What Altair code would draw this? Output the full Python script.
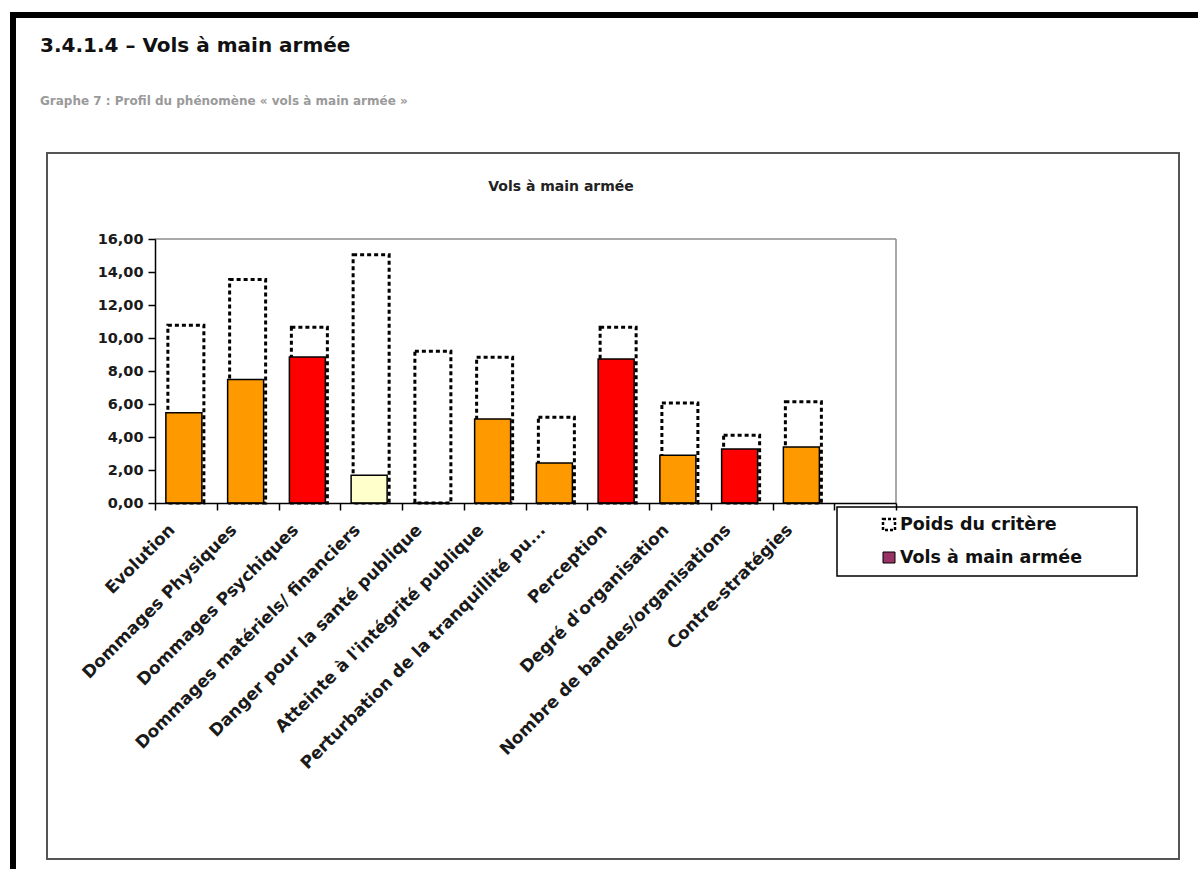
import altair as alt
import pandas as pd

# ---- data -----------------------------------------------------------------
categories = [
    "Evolution",
    "Dommages Physiques",
    "Dommages Psychiques",
    "Dommages matériels/ financiers",
    "Danger pour la santé publique",
    "Atteinte à l'intégrité publique",
    "Perturbation de la tranquillité pu...",
    "Perception",
    "Degré d'organisation",
    "Nombre de bandes/organisations",
    "Contre-stratégies",
]
# Twelfth slot on the category axis is left empty
slots = categories + [" "]
poids = [10.77, 13.54, 10.65, 15.05, 9.19, 8.83, 5.19, 10.65, 6.06, 4.10, 6.14]
valeurs = [5.47, 7.49, 8.85, 1.68, 0.0, 5.09, 2.42, 8.73, 2.89, 3.27, 3.39]
couleurs = ["#FF9900", "#FF9900", "#FF0000", "#FFFFCC", "#FFFFFF", "#FF9900",
            "#FF9900", "#FF0000", "#FF9900", "#FF0000", "#FF9900"]
y_ticks = [0, 2, 4, 6, 8, 10, 12, 14, 16]

legend_labels = ["Poids du critère", "Vols à main armée"]
legend_swatch = "#993366"

page_title = "3.4.1.4 – Vols à main armée"
page_subtitle = "Graphe 7 : Profil du phénomène « vols à main armée »"
chart_title = "Vols à main armée"

# ---- layout (plot area origin on the page) --------------------------------
W, H = 741, 264
OX, OY = 155, 239
PAGE_W, PAGE_H = 1198, 869
FONT = "DejaVu Sans"
BAR_W = 36


def px(x):
    return x - OX


def py(y):
    return y - OY


df = pd.DataFrame({"critere": categories, "poids": poids,
                   "valeur": valeurs, "couleur": couleurs})
one = pd.DataFrame({"k": [0]})

# Category slots fill the axis; ticks sit on the slot boundaries
x_enc = alt.X(
    "critere:N",
    sort=slots,
    scale=alt.Scale(domain=slots, paddingInner=0, paddingOuter=0),
    axis=alt.Axis(
        title=None, labelAngle=-45, labelAlign="right", labelBaseline="middle",
        labelFont=FONT, labelFontSize=17, labelFontWeight="bold",
        labelColor="#1a1a1a", labelOffset=-14, labelPadding=17,
        labelOverlap=False, labelLimit=400,
        tickBand="extent", tickSize=7, tickColor="black", tickWidth=1.5,
        domainColor="black", domainWidth=1.5, zindex=2,
    ),
)


def y_enc(field):
    return alt.Y(
        f"{field}:Q",
        scale=alt.Scale(domain=[0, 16], nice=False, zero=True),
        axis=alt.Axis(
            title=None, values=y_ticks, grid=False,
            labelExpr="replace(format(datum.value, '.2f'), '.', ',')",
            labelFont=FONT, labelFontSize=14.5, labelFontWeight="bold",
            labelColor="#1a1a1a", labelPadding=5,
            tickSize=7, tickColor="black", tickWidth=1.5,
            domainColor="black", domainWidth=1.5, zindex=2,
        ),
    )


# ---- page decorations ------------------------------------------------------
def box(x1, y1, x2, y2, **kw):
    return alt.Chart(one).mark_rect(**kw).encode(
        x=alt.value(px(x1)), x2=alt.value(px(x2)),
        y=alt.value(py(y1)), y2=alt.value(py(y2)),
    )


def label(text, x, y, **kw):
    return alt.Chart(one).mark_text(**kw).encode(
        x=alt.value(px(x)), y=alt.value(py(y)), text=alt.value(text)
    )


chart_frame = box(47, 153, 1179, 859, fill="white", stroke="#555555", strokeWidth=2)
top_band = box(10, 12, PAGE_W, 18, fill="black")
left_band = box(10, 12, 16, PAGE_H, fill="black")

title_txt = label(page_title, 40, 52, align="left", baseline="alphabetic",
                  font=FONT, fontSize=20, fontWeight="bold", color="#111111")
subtitle_txt = label(page_subtitle, 40, 105, align="left", baseline="alphabetic",
                     font=FONT, fontSize=12, fontWeight="bold", color="#9a9a9a")
chart_title_txt = label(chart_title, 561, 187, align="center", baseline="middle",
                        font=FONT, fontSize=14, fontWeight="bold", color="#222222")

# grey top/right border of the plot area
plot_top = alt.Chart(one).mark_rule(color="#8c8c8c", strokeWidth=1.5).encode(
    x=alt.value(0), x2=alt.value(W), y=alt.value(0))
plot_right = alt.Chart(one).mark_rule(color="#8c8c8c", strokeWidth=1.5).encode(
    x=alt.value(W), y=alt.value(0), y2=alt.value(H))

# ---- bars -----------------------------------------------------------------
poids_bars = alt.Chart(df).mark_bar(
    width=BAR_W, fill="transparent", stroke="black", strokeWidth=3,
    strokeDash=[4, 3], xOffset=0,
).encode(x=x_enc, y=y_enc("poids"))

valeur_bars = alt.Chart(df).mark_bar(
    width=BAR_W, stroke="black", strokeWidth=1.5, xOffset=-2,
).encode(x=x_enc, y=y_enc("valeur"), fill=alt.Fill("couleur:N", scale=None))

# ---- legend ---------------------------------------------------------------
legend_box = box(837, 507, 1137, 576, fill="white", stroke="black", strokeWidth=1.5)
legend_dots = box(883, 519, 895, 530, fill="transparent", stroke="black",
                  strokeWidth=2.5, strokeDash=[3, 2])
legend_fill = box(883, 552, 895, 563, fill=legend_swatch, stroke="black", strokeWidth=1)
legend_t1 = label(legend_labels[0], 900, 525, align="left", baseline="middle",
                  font=FONT, fontSize=17.5, fontWeight="bold", color="#111111")
legend_t2 = label(legend_labels[1], 900, 558, align="left", baseline="middle",
                  font=FONT, fontSize=17.5, fontWeight="bold", color="#111111")

chart = alt.layer(
    chart_frame, top_band, left_band,
    title_txt, subtitle_txt, chart_title_txt,
    plot_top, plot_right,
    poids_bars, valeur_bars,
    legend_box, legend_dots, legend_fill, legend_t1, legend_t2,
).properties(
    width=W, height=H,
    padding={"left": OX, "top": OY, "right": PAGE_W - OX - W, "bottom": PAGE_H - OY - H},
    autosize=alt.AutoSizeParams(type="none"),
    background="white",
).configure_view(strokeWidth=0)

chart.save("out.html", embed_options={"renderer": "svg", "actions": False})
